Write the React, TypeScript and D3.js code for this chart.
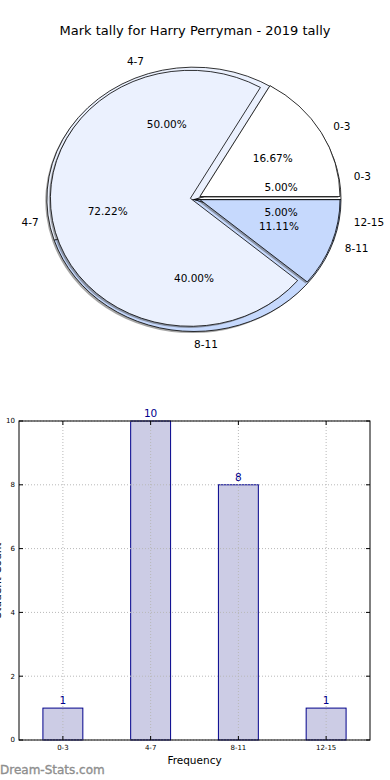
import React from 'react';
import * as d3 from 'd3';

// two tallies overlaid in one pie, plus the frequency bars
const pieCategoriesA = ['0-3', '4-7', '8-11', '12-15'];
const pieValuesA = [1, 10, 8, 1];
const pieCategoriesB = ['0-3', '4-7', '8-11'];
const pieValuesB = [3, 13, 2];

const barCategories = ['0-3', '4-7', '8-11', '12-15'];
const barValues = [1, 10, 8, 1];
const yTickValues = [0, 2, 4, 6, 8, 10];

const chartTitle = 'Mark tally for Harry Perryman - 2019 tally';

const W = 390;
const H = 780;
const FONT = 'DejaVu Sans, sans-serif';
const sliceColors = ['#ffffff', '#ebf1fe', '#c6d9fd', '#a9c4f7'];

type PieParts = { shadows: React.ReactNode[]; wedges: React.ReactNode[]; texts: React.ReactNode[] };

// shift: per-slice pixel offset of a pulled-out wedge
function buildPie(
  id: string,
  cats: string[],
  vals: number[],
  cx: number,
  cy: number,
  rx: number,
  ry: number,
  shift: number[][]
): PieParts {
  const total = d3.sum(vals);
  // counter-clockwise from 3 o'clock, like matplotlib
  const pieFn = d3.pie<number>().sort(null).startAngle(Math.PI / 2).endAngle(Math.PI / 2 - 2 * Math.PI);
  const arcFn = d3.arc<d3.PieArcDatum<number>>().innerRadius(0).outerRadius(ry);
  const arcs = pieFn(vals);
  const parts: PieParts = { shadows: [], wedges: [], texts: [] };
  const k = rx / ry;
  arcs.forEach((a, i) => {
    const mid = (a.startAngle + a.endAngle) / 2;
    const ux = Math.sin(mid);
    const uy = -Math.cos(mid);
    const ox = cx + shift[i][0];
    const oy = cy + shift[i][1];
    const d = arcFn(a) || '';
    parts.shadows.push(
      <path key={`${id}s${i}`} d={d} transform={`translate(${ox - 1.6},${oy + 1.6}) scale(${k},1)`}
        fill="#4d4d4d" fillOpacity={0.5} stroke="none" />
    );
    parts.wedges.push(
      <path key={`${id}w${i}`} d={d} transform={`translate(${ox},${oy}) scale(${k},1)`}
        fill={sliceColors[i]} stroke="#000" strokeWidth={0.8} vectorEffect="non-scaling-stroke" />
    );
    const anchor = ux >= -1e-9 ? 'start' : 'end';
    parts.texts.push(
      <text key={`${id}l${i}`} x={ox + 1.1 * rx * ux} y={oy + 1.1 * ry * uy} dy="0.35em" textAnchor={anchor}
        fontSize={10.5} fill="#000">{cats[i]}</text>
    );
    parts.texts.push(
      <text key={`${id}p${i}`} x={ox + 0.6 * rx * ux} y={oy + 0.6 * ry * uy} dy="0.35em" textAnchor="middle"
        fontSize={10.5} fill="#000">{((vals[i] / total) * 100).toFixed(2) + '%'}</text>
    );
  });
  return parts;
}

function BarPanel() {
  const left = 19, right = 370, top = 421, bottom = 740;
  const x = d3.scaleBand<string>().domain(barCategories).range([left, right]).paddingInner(0).paddingOuter(0);
  const y = d3.scaleLinear().domain([0, 10]).range([bottom, top]);
  const barW = x.bandwidth() * 0.455;
  const cx = (c: string) => (x(c) as number) + x.bandwidth() / 2;
  const navy = '#00008b';
  return (
    <g fontFamily={FONT}>
      {barCategories.map((c, i) => (
        <rect key={'b' + c} x={cx(c) - barW / 2} y={y(barValues[i])} width={barW} height={y(0) - y(barValues[i])}
          fill="#ccccE5" stroke={navy} strokeWidth={1} />
      ))}
      {yTickValues.map(t => (
        <line key={'gy' + t} x1={left} x2={right} y1={y(t)} y2={y(t)} stroke="#b8b8b8" strokeWidth={1} strokeDasharray="1,2" />
      ))}
      {barCategories.map(c => (
        <line key={'gx' + c} x1={cx(c)} x2={cx(c)} y1={top} y2={bottom} stroke="#b8b8b8" strokeWidth={1} strokeDasharray="1,2" />
      ))}
      {yTickValues.map(t => (
        <g key={'ty' + t}>
          <line x1={left} x2={left + 4} y1={y(t)} y2={y(t)} stroke="#000" />
          <line x1={right - 4} x2={right} y1={y(t)} y2={y(t)} stroke="#000" />
          <text x={left - 4} y={y(t)} dy="0.35em" textAnchor="end" fontSize={7}>{t}</text>
        </g>
      ))}
      {barCategories.map(c => (
        <g key={'tx' + c}>
          <line x1={cx(c)} x2={cx(c)} y1={bottom} y2={bottom - 4} stroke="#000" />
          <line x1={cx(c)} x2={cx(c)} y1={top} y2={top + 4} stroke="#000" />
          <text x={cx(c)} y={bottom + 10} textAnchor="middle" fontSize={7}>{c}</text>
        </g>
      ))}
      <rect x={left} y={top} width={right - left} height={bottom - top} fill="none" stroke="#000" strokeWidth={1} />
      {barCategories.map((c, i) => (
        <text key={'v' + c} x={cx(c)} y={y(barValues[i]) - 4} textAnchor="middle" fontSize={10.5} fill={navy}>{barValues[i]}</text>
      ))}
      <text x={(left + right) / 2} y={764} textAnchor="middle" fontSize={10.5}>Frequency</text>
      <text transform={`translate(1,${(top + bottom) / 2}) rotate(-90)`} textAnchor="middle" fontSize={10.5}>Student Count</text>
    </g>
  );
}

export default function App() {
  const pieA = buildPie('a', pieCategoriesA, pieValuesA, 194, 199.5, 147, 132, [[0, 0], [0, 0], [0, 0], [0, 0]]);
  const pieB = buildPie('b', pieCategoriesB, pieValuesB, 200, 196.5, 140, 128, [[0, 0], [-9.6, 1.8], [0, 3.2]]);
  return (
    <svg width={W} height={H} style={{ position: 'absolute', left: 0, top: 0, background: '#fff' }}>
      <text x={195} y={35} textAnchor="middle" fontFamily={FONT} fontSize={13} fill="#000">{chartTitle}</text>
      <g fontFamily={FONT}>
        {pieA.shadows}
        {pieA.wedges}
        {pieB.shadows}
        {pieB.wedges}
        {pieA.texts}
        {pieB.texts}
      </g>
      <BarPanel />
      <text x={0} y={774} fontFamily={FONT} fontSize={12} fill="#8e8e8e" stroke="#8e8e8e" strokeWidth={0.35}>Dream-Stats.com</text>
    </svg>
  );
}
